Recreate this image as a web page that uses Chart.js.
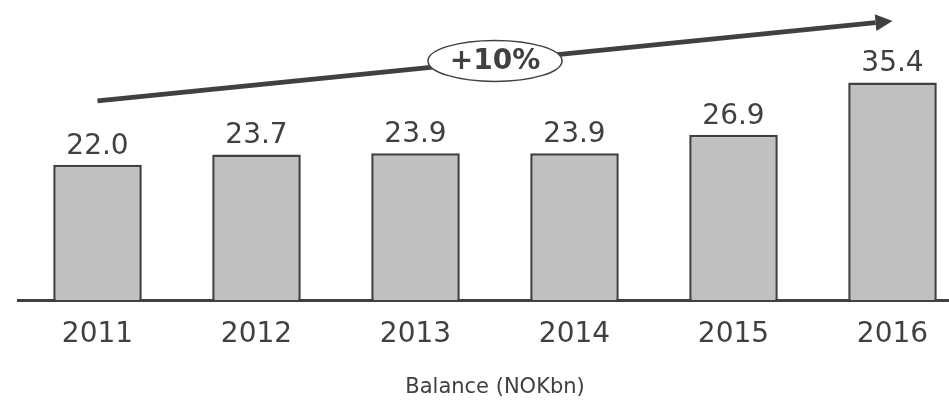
<!DOCTYPE html>
<html>
<head>
<meta charset="utf-8">
<script src="https://cdn.jsdelivr.net/npm/chart.js@4/dist/chart.umd.min.js"></script>
<style>
  html, body { margin: 0; padding: 0; background: #fff; overflow: hidden; }
  #wrap { width: 949px; height: 400px; overflow: hidden; }
</style>
</head>
<body>
<div id="wrap"><canvas id="chart" width="972" height="400"></canvas></div>
<script>
// balance per year, NOK bn
const years = ["2011", "2012", "2013", "2014", "2015", "2016"];
const balance = [22.0, 23.7, 23.9, 23.9, 26.9, 35.4];
const axisTitle = "Balance (NOKbn)";

const ink = "#404040";

// growth per year between first and last bar
function cagr(values) {
    const n = values.length - 1;
    return Math.pow(values[n] / values[0], 1 / n) - 1;
}

// numbers above each bar
const valueLabels = {
    id: "valueLabels",
    afterDatasetsDraw(chart) {
        const ctx = chart.ctx;
        const meta = chart.getDatasetMeta(0);
        ctx.save();
        ctx.font = "28px 'DejaVu Sans'";
        ctx.fillStyle = ink;
        ctx.textAlign = "center";
        ctx.textBaseline = "alphabetic";
        meta.data.forEach((bar, i) => {
            ctx.fillText(balance[i].toFixed(1), bar.x, bar.y - 11);
        });
        ctx.restore();
    }
};

// rising arrow with the growth bubble on it
const trendArrow = {
    id: "trendArrow",
    afterDraw(chart) {
        const ctx = chart.ctx;
        const xs = chart.scales.x;
        const ys = chart.scales.y;
        const x0 = xs.getPixelForValue(0);
        const x1 = xs.getPixelForValue(years.length - 1);
        const y0 = ys.getPixelForValue(32.4);
        const y1 = ys.getPixelForValue(45.4);
        const ang = Math.atan2(y1 - y0, x1 - x0);
        const head = 17, half = 8.5;

        ctx.save();
        ctx.strokeStyle = ink;
        ctx.fillStyle = ink;
        ctx.lineWidth = 5;
        ctx.beginPath();
        ctx.moveTo(x0, y0);
        ctx.lineTo(x1 - head * Math.cos(ang), y1 - head * Math.sin(ang));
        ctx.stroke();

        ctx.beginPath();
        ctx.moveTo(x1, y1);
        ctx.lineTo(x1 - head * Math.cos(ang) + half * Math.sin(ang),
                   y1 - head * Math.sin(ang) - half * Math.cos(ang));
        ctx.lineTo(x1 - head * Math.cos(ang) - half * Math.sin(ang),
                   y1 - head * Math.sin(ang) + half * Math.cos(ang));
        ctx.closePath();
        ctx.fill();

        // bubble sits on the line between 2013 and 2014
        const cx = (xs.getPixelForValue(2) + xs.getPixelForValue(3)) / 2;
        const cy = y0 + (y1 - y0) * (cx - x0) / (x1 - x0);
        ctx.beginPath();
        ctx.ellipse(cx, cy, 67, 20.5, 0, 0, Math.PI * 2);
        ctx.fillStyle = "#fff";
        ctx.fill();
        ctx.lineWidth = 1.5;
        ctx.stroke();

        ctx.fillStyle = ink;
        ctx.font = "bold 28px 'DejaVu Sans'";
        ctx.textAlign = "center";
        ctx.textBaseline = "middle";
        ctx.fillText("+" + Math.round(cagr(balance) * 100) + "%", cx, cy + 1);
        ctx.restore();
    }
};

new Chart(document.getElementById("chart"), {
    type: "bar",
    data: {
        labels: years,
        datasets: [{
            data: balance,
            backgroundColor: "#c0c0c0",
            borderColor: ink,
            borderWidth: 2.5,
            barPercentage: 0.557,
            categoryPercentage: 1
        }]
    },
    options: {
        responsive: false,
        animation: false,
        devicePixelRatio: 1,
        layout: { padding: { left: 18, right: 0, top: 0, bottom: 0 } },
        plugins: { legend: { display: false }, tooltip: { enabled: false } },
        scales: {
            y: {
                display: false,
                min: 0,
                max: 48.8
            },
            x: {
                grid: { display: false, drawTicks: false },
                border: { display: true, color: ink, width: 3 },
                ticks: {
                    color: ink,
                    padding: 18,
                    font: { family: "'DejaVu Sans'", size: 28 }
                },
                title: {
                    display: true,
                    text: axisTitle,
                    color: ink,
                    font: { family: "'DejaVu Sans'", size: 21 },
                    padding: { top: 5, bottom: 0 }
                }
            }
        }
    },
    plugins: [valueLabels, trendArrow]
});
</script>
</body>
</html>
